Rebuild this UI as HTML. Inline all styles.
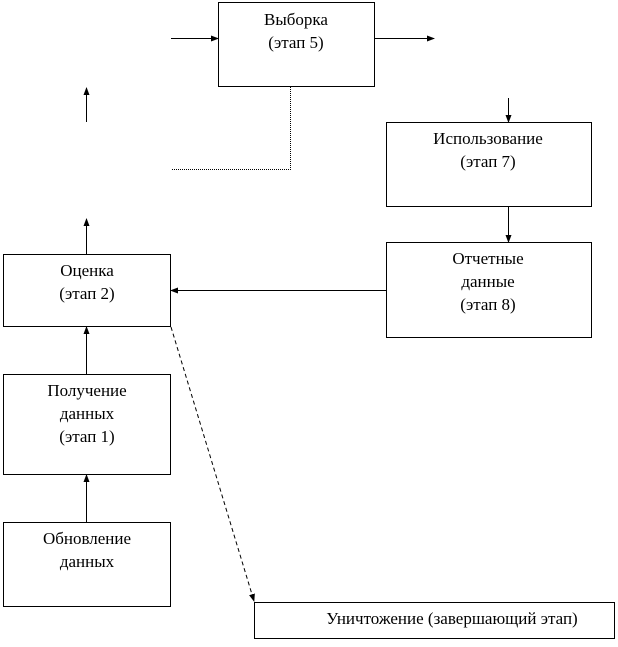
<!DOCTYPE html>
<html><head><meta charset="utf-8"><style>
body{margin:0;background:#fff;width:618px;height:642px;overflow:hidden}
</style></head><body>
<svg width="618" height="642" viewBox="0 0 618 642">
<defs><marker id="a" markerWidth="8" markerHeight="8" refX="7" refY="4" orient="auto" markerUnits="userSpaceOnUse"><path d="M0,1 L8,4 L0,7z" fill="#000"/></marker></defs>
<g fill="none" stroke="#000" stroke-width="1">
<rect x="218.5" y="2.5" width="156" height="84"/>
<rect x="386.5" y="122.5" width="205" height="84"/>
<rect x="386.5" y="242.5" width="205" height="95"/>
<rect x="3.5" y="254.5" width="167" height="72"/>
<rect x="3.5" y="374.5" width="167" height="100"/>
<rect x="3.5" y="522.5" width="167" height="84"/>
<rect x="254.5" y="602.5" width="360" height="36"/>
<line x1="171" y1="38.5" x2="218" y2="38.5" marker-end="url(#a)"/>
<line x1="375" y1="38.5" x2="434" y2="38.5" marker-end="url(#a)"/>
<line x1="86.5" y1="122" x2="86.5" y2="88" marker-end="url(#a)"/>
<line x1="86.5" y1="254" x2="86.5" y2="219" marker-end="url(#a)"/>
<line x1="508.5" y1="98" x2="508.5" y2="122" marker-end="url(#a)"/>
<line x1="508.5" y1="207" x2="508.5" y2="242" marker-end="url(#a)"/>
<line x1="386" y1="290.5" x2="171" y2="290.5" marker-end="url(#a)"/>
<line x1="86.5" y1="374" x2="86.5" y2="327" marker-end="url(#a)"/>
<line x1="86.5" y1="522" x2="86.5" y2="475" marker-end="url(#a)"/>
<polyline points="290.5,87 290.5,169.5 172,169.5" stroke-dasharray="1,1"/>
<line x1="171" y1="327" x2="254" y2="601" stroke-dasharray="4,3" marker-end="url(#a)"/>
</g>
<g text-anchor="middle" font-family="'Liberation Serif', 'Times New Roman', serif" font-size="17" fill="#000">
<text x="296" y="25">Выборка</text><text x="296" y="48">(этап 5)</text>
<text x="488" y="144">Использование</text><text x="488" y="167">(этап 7)</text>
<text x="488" y="264">Отчетные</text><text x="488" y="287">данные</text><text x="488" y="310">(этап 8)</text>
<text x="87" y="276">Оценка</text><text x="87" y="299">(этап 2)</text>
<text x="87" y="396">Получение</text><text x="87" y="419">данных</text><text x="87" y="442">(этап 1)</text>
<text x="87" y="544">Обновление</text><text x="87" y="567">данных</text>
<text x="452" y="624">Уничтожение (завершающий этап)</text>
</g>
</svg>
</body></html>
